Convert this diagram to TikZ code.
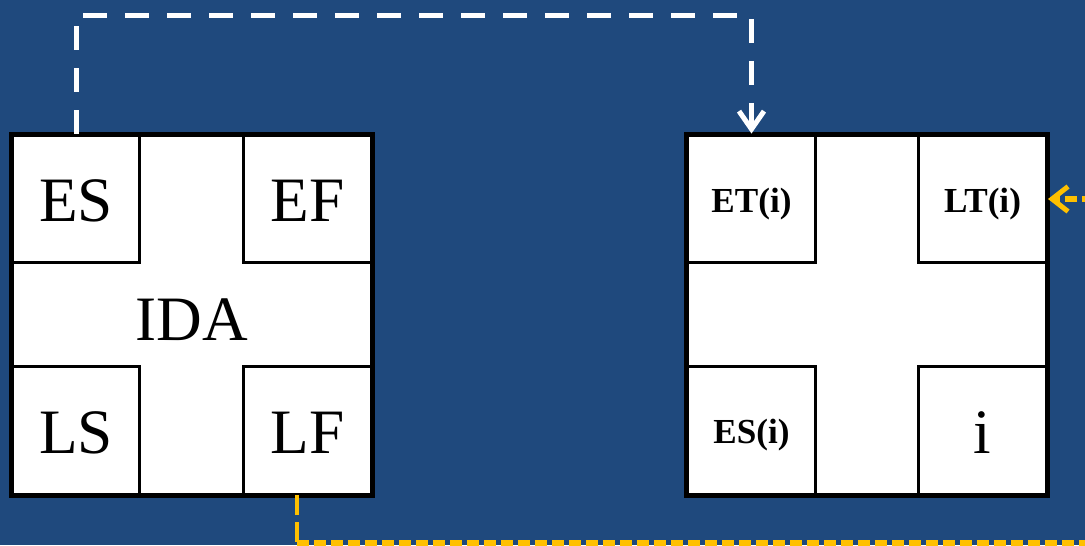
\documentclass[tikz,border=0pt]{standalone}
\usepackage{fontspec}
\setmainfont{Liberation Serif}
\usepackage{xcolor}
\usetikzlibrary{arrows.meta, positioning, calc}
\definecolor{bgblue}{HTML}{1F497D}
\definecolor{lineyellow}{HTML}{FFC000}

\begin{document}
\begin{tikzpicture}[x=0.02cm, y=-0.02cm,
    frame/.style={draw=black, fill=white, line width=0.07cm, minimum size=7.2cm, inner sep=0pt},
    cell/.style={draw=black, fill=white, line width=0.06cm, minimum size=2.56cm, inner sep=0pt, text height=26pt, text depth=0pt, font=\fontsize{36}{36}\selectfont},
    smallcell/.style={cell, text height=14.8pt, font=\fontsize{20}{20}\selectfont\bfseries},
    whitedash/.style={draw=white, line width=0.1cm, dash pattern=on 0.48cm off 0.36cm},
    yellowdash/.style={draw=lineyellow, line width=0.08cm, dash pattern=on 0.4cm off 0.14cm},
    yellowdot/.style={draw=lineyellow, line width=0.11cm, dash pattern=on 0.24cm off 0.1cm}]
                \fill[bgblue] (0,0) rectangle (1085,545);
                \useasboundingbox (0,0) rectangle (1085,545);
                % left box
                \node[frame] (ida) at (192,315) {};
                \node[cell] (es) at (76,199) {ES};
                \node[cell] (ef) at (307.5,199) {EF};
                \node[cell] (ls) at (76,430.5) {LS};
                \node[cell] (lf) at (307.5,430.5) {LF};
                \node[font=\fontsize{36}{36}\selectfont] (idatext) at (192,320) {IDA};
                \draw[black, line width=0.07cm] (ida.south west) rectangle (ida.north east);
                % right box
                \node[frame] (node) at (867,315) {};
                \node[smallcell] (eti) at (751.5,199) {ET(i)};
                \node[smallcell] (lti) at (982.5,199) {LT(i)};
                \node[smallcell] (esi) at (751.5,430.5) {ES(i)};
                \node[cell] (num) at (982.5,430.5) {i};
                \draw[black, line width=0.07cm] (node.south west) rectangle (node.north east);
                % connectors
                \coordinate (top) at (76,15);
                \draw[whitedash, -{Straight Barb[length=0.36cm, width=0.5cm, line width=0.1cm]}] (es.north) -- (top) -| (eti.north);
                \coordinate (lfdown) at (297,495);
                \coordinate (turn) at (297,543);
                \coordinate (far) at (1110,543);
                \draw[yellowdash] (lfdown) -- (turn);
                \draw[yellowdot, -{Straight Barb[length=0.32cm, width=0.5cm, line width=0.1cm]}] (turn) -- (far) |- (lti.east);
            \end{tikzpicture}
\end{document}
